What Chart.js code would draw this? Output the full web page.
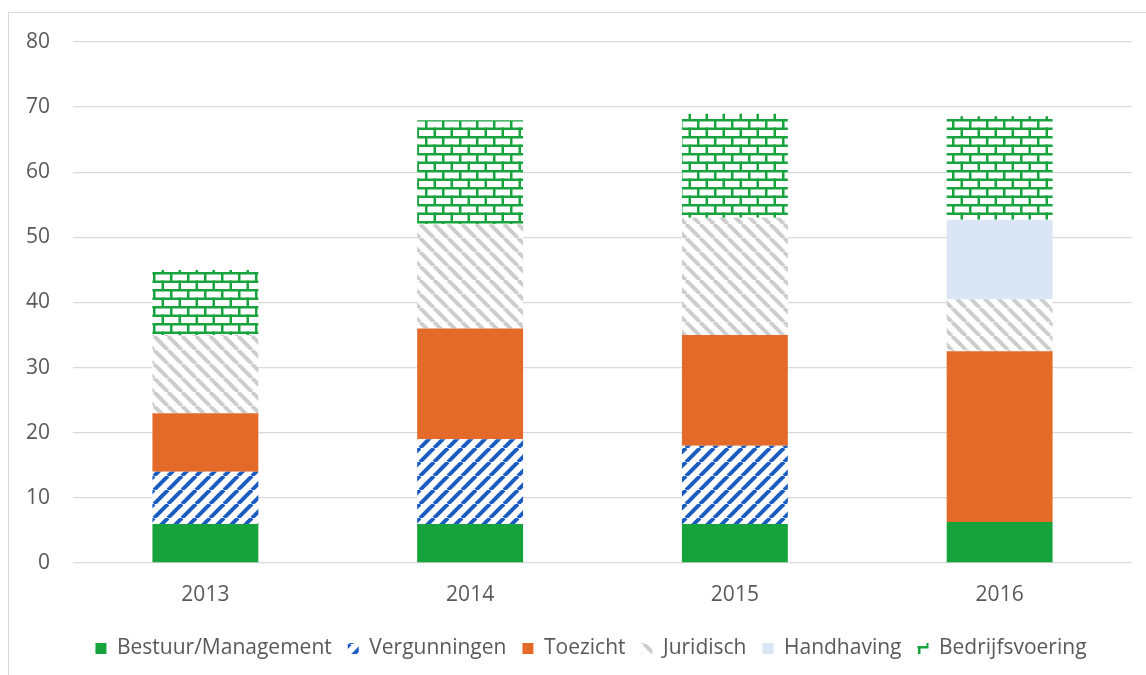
<!DOCTYPE html>
<html lang="nl">
<head>
    <meta charset="UTF-8">
    <title>Formatie per taakveld</title>
    <script src="https://cdn.jsdelivr.net/npm/chart.js"></script>
    <style>
        body {
            margin: 0;
            background: #ffffff;
        }
        #frame {
            position: absolute;
            left: 8px;
            top: 12px;
            width: 1138px;
            height: 663px;
            border-left: 1px solid #d9d9d9;
            border-top: 1px solid #d9d9d9;
        }
        canvas {
            position: absolute;
            left: 0;
            top: 0;
        }
    </style>
</head>
<body>
    <div id="frame"></div>
    <canvas id="myChart" width="1146" height="675"></canvas>

    <script>
        // categories (years)
        const years = ['2013', '2014', '2015', '2016'];

        // series values
        const bestuur = [6, 6, 6, 6.3];
        const vergunningen = [8, 13, 12, 0];
        const toezicht = [9, 17, 17, 26.2];
        const juridisch = [12, 16, 18, 8];
        const handhaving = [0, 0, 0, 12.2];
        const bedrijfsvoering = [10, 16, 16, 15.9];

        // y axis ticks
        const yMin = 0;
        const yMax = 80;
        const yStep = 10;

        const textColor = '#595959';
        const gridColor = '#d9d9d9';

        Chart.defaults.font.family = '"Open Sans", sans-serif';
        Chart.defaults.font.size = 21;
        Chart.defaults.color = textColor;

        // diagonal stripe pattern, dir 1 = "/" and -1 = "\"
        function stripes(color, dir) {
            const size = 14;
            const c = document.createElement('canvas');
            c.width = size;
            c.height = size;
            const g = c.getContext('2d');
            g.fillStyle = '#ffffff';
            g.fillRect(0, 0, size, size);
            g.strokeStyle = color;
            g.lineWidth = 4;
            for (let k = -1; k <= 1; k++) {
                g.beginPath();
                if (dir > 0) {
                    g.moveTo(k * size, size);
                    g.lineTo(k * size + size, 0);
                } else {
                    g.moveTo(k * size, 0);
                    g.lineTo(k * size + size, size);
                }
                g.stroke();
            }
            return g.createPattern(c, 'repeat');
        }

        // brick pattern like the Excel one
        function bricks(color) {
            const w = 17, h = 17;
            const t = 2.5;   // line thickness
            const c = document.createElement('canvas');
            c.width = w;
            c.height = h;
            const g = c.getContext('2d');
            g.fillStyle = '#ffffff';
            g.fillRect(0, 0, w, h);
            g.fillStyle = color;
            g.fillRect(0, 0, w, t);        // top line
            g.fillRect(0, 8.5, w, t);      // middle line
            g.fillRect(0, 0, t, 9);        // upper row joint
            g.fillRect(8.5, 8.5, t, 8.5);  // lower row joint
            return g.createPattern(c, 'repeat');
        }

        // the legend in the picture sits a bit right of the centre
        const legendShift = {
            id: 'legendShift',
            afterLayout(chart) {
                chart.legend.left += 25;
                chart.legend.right += 25;
            }
        };

        const ctx = document.getElementById('myChart').getContext('2d');

        const datasets = [
            { label: 'Bestuur/Management', data: bestuur, backgroundColor: '#16a33c' },
            { label: 'Vergunningen', data: vergunningen, backgroundColor: stripes('#1a5cbf', 1) },
            { label: 'Toezicht', data: toezicht, backgroundColor: '#e36a28' },
            { label: 'Juridisch', data: juridisch, backgroundColor: stripes('#cdcdcd', -1) },
            { label: 'Handhaving', data: handhaving, backgroundColor: '#dae6f5' },
            { label: 'Bedrijfsvoering', data: bedrijfsvoering, backgroundColor: bricks('#17a33e') }
        ];
        datasets.forEach(d => {
            d.borderWidth = 0;
            d.categoryPercentage = 1;
            d.barPercentage = 0.4;
        });

        new Chart(ctx, {
            type: 'bar',
            data: {
                labels: years,
                datasets: datasets
            },
            plugins: [legendShift],
            options: {
                responsive: false,
                animation: false,
                layout: {
                    padding: { left: 0, right: 14, top: 42, bottom: 6 }
                },
                scales: {
                    x: {
                        stacked: true,
                        grid: { display: false, drawTicks: false },
                        border: { display: false },
                        ticks: { color: textColor, padding: 19 },
                        afterFit: function (scale) { scale.height = 59; }
                    },
                    y: {
                        stacked: true,
                        min: yMin,
                        max: yMax,
                        ticks: { stepSize: yStep, color: textColor, padding: 23 },
                        grid: { color: gridColor, lineWidth: 1.3, drawTicks: false },
                        border: { display: false },
                        afterFit: function (scale) { scale.width = 73; }
                    }
                },
                plugins: {
                    tooltip: { enabled: false },
                    legend: {
                        position: 'bottom',
                        labels: {
                            color: textColor,
                            boxWidth: 11,
                            boxHeight: 11,
                            padding: 16
                        }
                    }
                }
            }
        });
    </script>
</body>
</html>
